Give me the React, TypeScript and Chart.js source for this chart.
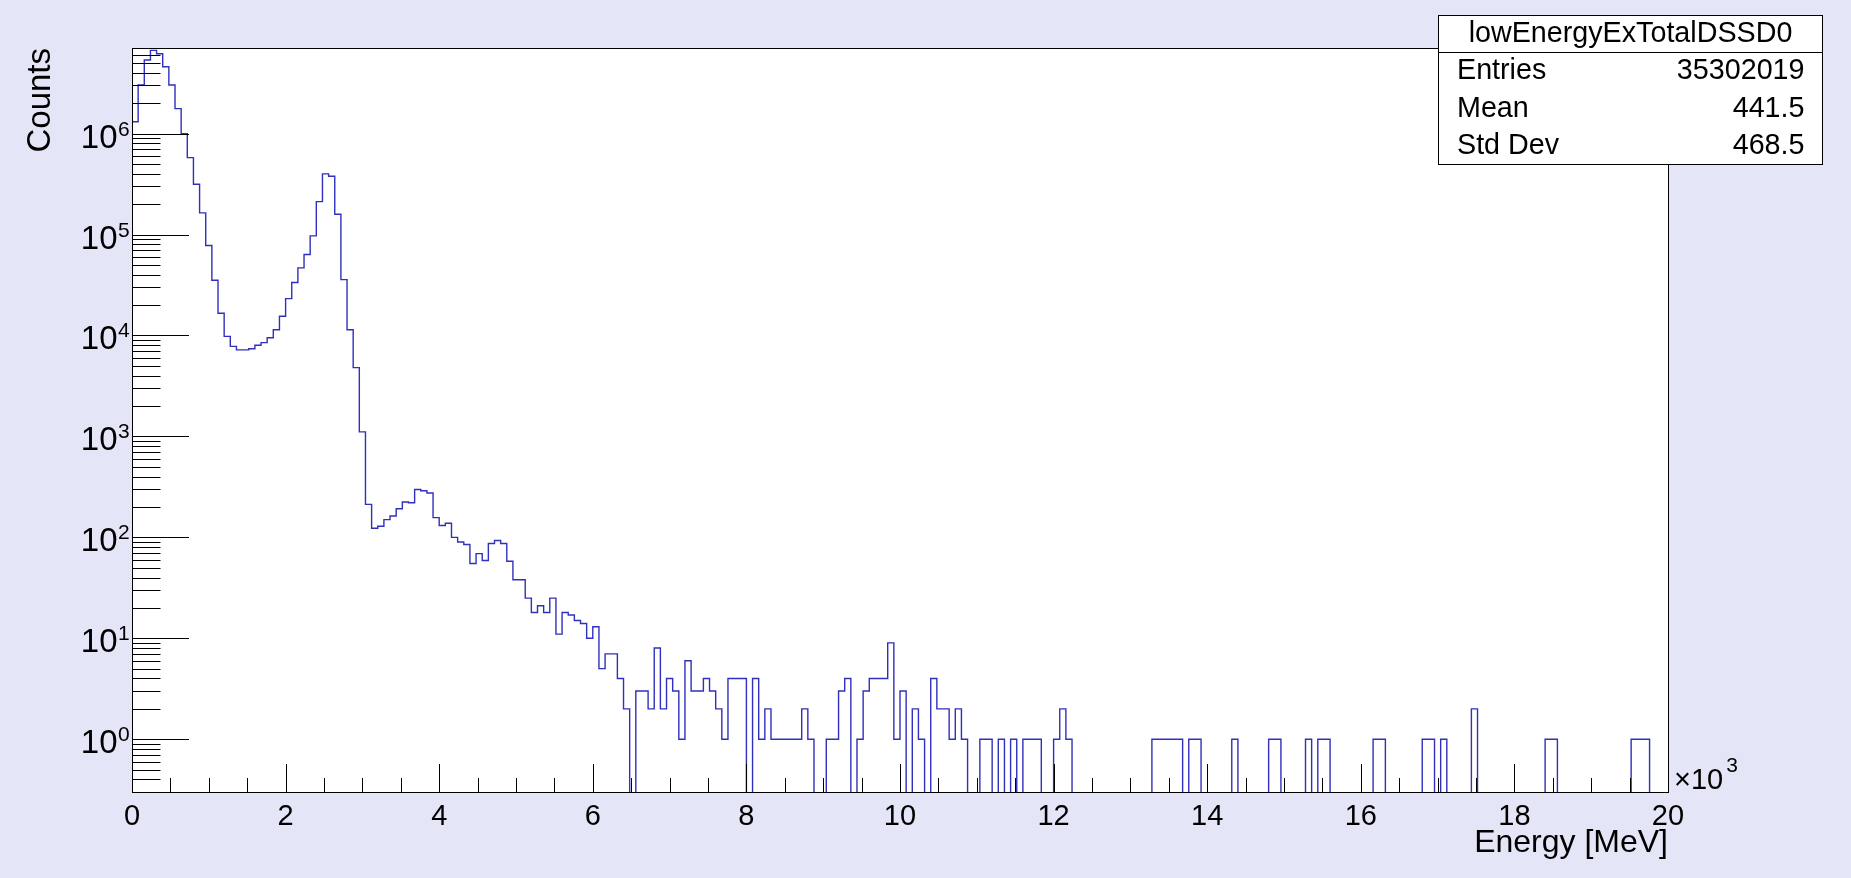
import React, { useEffect, useRef } from 'react';
import { Chart, registerables } from 'chart.js';

Chart.register(...registerables);

// histogram binning (x axis is in units of 10^3)
const BIN_WIDTH = 0.08;
const X_MAX = 20;
const Y_MIN = 0.305;
const Y_MAX = 7.05e6;

// bins 0-19 : main low-energy peak
const peakCounts = [
  1.31e6, 3.03e6, 5.36e6, 6.68e6, 6.19e6, 4.6e6, 3.03e6, 1.77e6, 1.0e6, 5.78e5,
  3.15e5, 1.64e5, 7.8e4, 3.53e4, 1.66e4, 9.8e3, 7.8e3, 7.2e3, 7.2e3, 7.4e3,
];

// bins 20-37 : second peak around 2.5
const secondPeakCounts = [
  8.0e3, 8.5e3, 9.5e3, 1.14e4, 1.55e4, 2.32e4, 3.35e4, 4.68e4, 6.34e4, 9.7e4,
  2.12e5, 3.99e5, 3.78e5, 1.59e5, 3.58e4, 1.14e4, 4.8e3, 1.11e3,
];

// bins 38-80 : shoulder and falling edge
const shoulderCounts = [
  212, 123, 129, 150, 163, 192, 224, 220, 298, 290,
  275, 157, 131, 138, 100, 90, 85, 55, 69, 59,
  87, 93, 87, 58, 38, 38, 25, 18, 21, 18,
  25, 11, 18, 17, 15, 14, 10, 13, 5, 7,
  7, 4, 2,
];

// bins 81-152 : low-statistics tail
const tailCounts = [
  0, 3, 3, 2, 8, 2, 4, 3, 1, 6,
  3, 3, 4, 3, 2, 1, 4, 4, 4, 0,
  4, 1, 2, 1, 1, 1, 1, 1, 2, 1,
  0, 0, 1, 1, 3, 4, 0, 1, 3, 4,
  4, 4, 9, 1, 3, 0, 2, 1, 0, 4,
  2, 2, 1, 2, 1, 0, 0, 1, 1, 0,
  1, 0, 1, 0, 1, 1, 1, 0, 0, 1,
  2, 1,
];

// bins 153-249 : sparse counts
const sparseCounts = [
  0, 0, 0, 0, 0, 0, 0, 0, 0, 0,
  0, 0, 0, 1, 1, 1, 1, 1, 0, 1,
  1, 0, 0, 0, 0, 0, 1, 0, 0, 0,
  0, 0, 1, 1, 0, 0, 0, 0, 1, 0,
  1, 1, 0, 0, 0, 0, 0, 0, 0, 1,
  1, 0, 0, 0, 0, 0, 0, 1, 1, 0,
  1, 0, 0, 0, 0, 2, 0, 0, 0, 0,
  0, 0, 0, 0, 0, 0, 0, 1, 1, 0,
  0, 0, 0, 0, 0, 0, 0, 0, 0, 0,
  0, 1, 1, 1, 0, 0, 0,
];

const xTickValues = [0, 2, 4, 6, 8, 10, 12, 14, 16, 18, 20];
const xTickLabels = ['0', '2', '4', '6', '8', '10', '12', '14', '16', '18', '20'];
const yTickExponents = [0, 1, 2, 3, 4, 5, 6];

const statsTitle = 'lowEnergyExTotalDSSD0';
const statsLabels = ['Entries', 'Mean', 'Std Dev'];
const statsValues = ['35302019', '441.5', '468.5'];

const FONT = '"Liberation Sans", Arial, Helvetica, sans-serif';
const BG = '#E5E5F8';
const LINE = '#3030BC';

const rootPlugin = {
  id: 'rootStyle',
  beforeDraw(chart: any) {
    const { ctx, chartArea: a, width, height } = chart;
    ctx.save();
    ctx.fillStyle = BG;
    ctx.fillRect(0, 0, width, height);
    ctx.fillStyle = '#ffffff';
    ctx.fillRect(a.left, a.top, a.right - a.left, a.bottom - a.top);
    ctx.restore();
  },
  afterDatasetsDraw(chart: any) {
    const { ctx, chartArea: a } = chart;
    const xs = chart.scales.x;
    const ys = chart.scales.y;
    ctx.save();
    ctx.strokeStyle = '#000';
    ctx.lineWidth = 1;

    // frame
    ctx.strokeRect(a.left + 0.5, a.top + 0.5, a.right - a.left, a.bottom - a.top);

    // x ticks, pointing inward
    ctx.beginPath();
    for (let i = 0; i <= 40; i++) {
      const px = Math.round(xs.getPixelForValue(i * 0.5)) + 0.5;
      const len = i % 4 === 0 ? 28 : 14;
      ctx.moveTo(px, a.bottom);
      ctx.lineTo(px, a.bottom - len);
    }
    // y ticks (log)
    for (let n = -1; n <= 6; n++) {
      for (let k = 1; k <= 9; k++) {
        const v = k * Math.pow(10, n);
        if (v < Y_MIN || v > Y_MAX) continue;
        const py = Math.round(ys.getPixelForValue(v)) + 0.5;
        const len = k === 1 ? 57 : 28.5;
        ctx.moveTo(a.left, py);
        ctx.lineTo(a.left + len, py);
      }
    }
    ctx.stroke();

    ctx.fillStyle = '#000';
    // x tick labels
    ctx.font = `29px ${FONT}`;
    ctx.textAlign = 'center';
    ctx.textBaseline = 'alphabetic';
    xTickValues.forEach((v, i) => {
      ctx.fillText(xTickLabels[i], xs.getPixelForValue(v), 825);
    });

    // y tick labels 10^n
    yTickExponents.forEach((n) => {
      const py = ys.getPixelForValue(Math.pow(10, n));
      ctx.font = `33px ${FONT}`;
      ctx.textAlign = 'right';
      ctx.fillText('10', 117.5, py + 14);
      ctx.font = `21px ${FONT}`;
      ctx.textAlign = 'left';
      ctx.fillText(String(n), 118, py + 2);
    });

    // x10^3 multiplier
    ctx.font = `29px ${FONT}`;
    ctx.textAlign = 'left';
    ctx.fillText('×10', 1674, 789);
    const w = ctx.measureText('×10').width;
    ctx.font = `21px ${FONT}`;
    ctx.fillText('3', 1674 + w + 3, 772);

    // axis titles
    ctx.font = `32px ${FONT}`;
    ctx.textAlign = 'right';
    ctx.fillText('Energy [MeV]', a.right, 852);
    ctx.save();
    ctx.translate(50, a.top);
    ctx.rotate(-Math.PI / 2);
    ctx.font = `33px ${FONT}`;
    ctx.textAlign = 'right';
    ctx.fillText('Counts', 0, 0);
    ctx.restore();

    // stats box
    const bx = 1438.5;
    const by = 15.5;
    const bw = 384;
    const bh = 149;
    ctx.fillStyle = '#ffffff';
    ctx.fillRect(bx, by, bw, bh);
    ctx.strokeRect(bx, by, bw, bh);
    ctx.beginPath();
    ctx.moveTo(bx, 52.5);
    ctx.lineTo(bx + bw, 52.5);
    ctx.stroke();
    ctx.fillStyle = '#000';
    ctx.font = `28.7px ${FONT}`;
    ctx.textAlign = 'center';
    ctx.fillText(statsTitle, bx + bw / 2, 42);
    const rowBase = [78.5, 116.5, 154];
    statsLabels.forEach((lab, i) => {
      ctx.textAlign = 'left';
      ctx.fillText(lab, 1457, rowBase[i]);
      ctx.textAlign = 'right';
      ctx.fillText(statsValues[i], 1804.5, rowBase[i]);
    });
    ctx.restore();
  },
};

export default function App() {
  const canvasRef = useRef<HTMLCanvasElement>(null);
  const chartRef = useRef<Chart | null>(null);

  useEffect(() => {
    document.body.style.margin = '0';
    if (!canvasRef.current) return;
    if (chartRef.current) chartRef.current.destroy();

    const counts = [...peakCounts, ...secondPeakCounts, ...shoulderCounts, ...tailCounts, ...sparseCounts];
    // empty bins drop below the log frame and get clipped, as ROOT draws them
    const points = counts.map((c, i) => ({ x: i * BIN_WIDTH, y: c > 0 ? c : Y_MIN * 0.1 }));
    points.push({ x: X_MAX, y: points[points.length - 1].y });

    chartRef.current = new Chart(canvasRef.current, {
      type: 'line',
      data: {
        datasets: [
          {
            label: statsTitle,
            data: points,
            stepped: 'before',
            borderColor: LINE,
            borderWidth: 1.4,
            pointRadius: 0,
            fill: false,
            tension: 0,
            clip: 0,
          },
        ],
      },
      options: {
        animation: false,
        responsive: true,
        maintainAspectRatio: false,
        layout: { padding: { left: 132, top: 48, right: 183, bottom: 86 } },
        plugins: { legend: { display: false }, tooltip: { enabled: false } },
        scales: {
          x: { type: 'linear', min: 0, max: X_MAX, display: false },
          y: { type: 'logarithmic', min: Y_MIN, max: Y_MAX, display: false },
        },
      },
      plugins: [rootPlugin],
    });

    return () => {
      if (chartRef.current) {
        chartRef.current.destroy();
        chartRef.current = null;
      }
    };
  }, []);

  return (
    <div style={{ width: '1851px', height: '878px', overflow: 'hidden' }}>
      <canvas ref={canvasRef} />
    </div>
  );
}
